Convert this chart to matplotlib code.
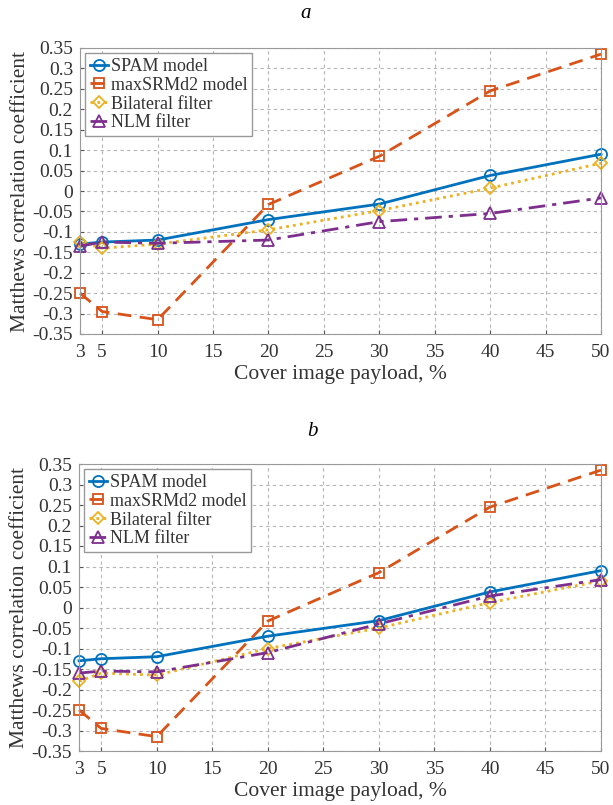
import matplotlib.pyplot as plt
import numpy as np

plt.rcParams['font.family'] = ['Liberation Serif', 'DejaVu Serif']

payload = [3, 5, 10, 20, 30, 40, 50]
xticks = [3, 5, 10, 15, 20, 25, 30, 35, 40, 45, 50]
yticks = np.round(np.arange(-0.35, 0.351, 0.05), 2) + 0.0

# panel a
spam_a = [-0.130, -0.125, -0.120, -0.070, -0.032, 0.038, 0.090]
srm_a = [-0.250, -0.295, -0.315, -0.033, 0.085, 0.245, 0.335]
bil_a = [-0.125, -0.140, -0.130, -0.095, -0.048, 0.007, 0.068]
nlm_a = [-0.135, -0.125, -0.128, -0.120, -0.075, -0.055, -0.017]

# panel b
spam_b = [-0.130, -0.125, -0.120, -0.070, -0.032, 0.038, 0.090]
srm_b = [-0.250, -0.295, -0.315, -0.033, 0.085, 0.245, 0.335]
bil_b = [-0.180, -0.160, -0.165, -0.100, -0.050, 0.012, 0.065]
nlm_b = [-0.160, -0.155, -0.157, -0.110, -0.040, 0.028, 0.068]

labels = ['SPAM model', 'maxSRMd2 model', 'Bilateral filter', 'NLM filter']
colors = ['#0072BD', '#D95319', '#EDB120', '#7E2F8E']
styles = ['-', (0, (5, 3)), (0, (1, 1.5)), (0, (6, 2.5, 1.5, 2.5))]
markers = ['o', 's', 'D', '^']
msizes = [8, 7, 6.5, 8]

W, H = 613, 805
fig = plt.figure(figsize=(W / 100, H / 100), dpi=100)

def box(l, t, r, b):
    return [l / W, 1 - b / H, (r - l) / W, (b - t) / H]

ax_a = fig.add_axes(box(80, 48, 601, 334))
ax_b = fig.add_axes(box(79, 464, 601, 751))

def ylab(v):
    s = f'{v:g}'
    return '0' if s in ('0', '-0') else s

def draw(ax, series):
    for ys, lab, c, ls, m, ms in zip(series, labels, colors, styles, markers, msizes):
        ax.plot(payload, ys, ls=ls, color=c, lw=2, marker=m, ms=ms,
                mfc='none', mec=c, mew=1.3, label=lab, clip_on=False)
    ax.set_xlim(3, 50)
    ax.set_ylim(-0.35, 0.35)
    ax.set_xticks(xticks)
    ax.set_yticks(yticks)
    ax.set_yticklabels([ylab(v) for v in yticks])
    ax.tick_params(labelsize=14, direction='in', length=3, color='#555555',
                   labelcolor='#333333')
    ax.tick_params(axis='x', pad=7)
    ax.tick_params(axis='y', pad=5)
    ax.grid(True, ls=(0, (3, 3)), color='#b5b5b5', lw=0.8)
    for s in ax.spines.values():
        s.set_color('#999999')
    ax.set_xlabel('Cover image payload, %', fontsize=15.5, labelpad=3,
                  color='#333333')
    ax.set_ylabel('Matthews correlation coefficient', fontsize=15.5,
                  labelpad=2, color='#333333')
    leg = ax.legend(loc='upper left', fontsize=13, handlelength=1.0,
                    handletextpad=0.15, borderpad=0.25, labelspacing=0.1,
                    fancybox=False, framealpha=1, borderaxespad=0.3)
    leg.get_frame().set_edgecolor('#999999')
    for t in leg.get_texts():
        t.set_color('#333333')

draw(ax_a, [spam_a, srm_a, bil_a, nlm_a])
draw(ax_b, [spam_b, srm_b, bil_b, nlm_b])

fig.text(306 / W, 1 - 14 / H, 'a', fontsize=15, style='italic',
         ha='center', va='center')
fig.text(312 / W, 1 - 432 / H, 'b', fontsize=15, style='italic',
         ha='center', va='center')

fig.savefig('out.png', dpi=100)
